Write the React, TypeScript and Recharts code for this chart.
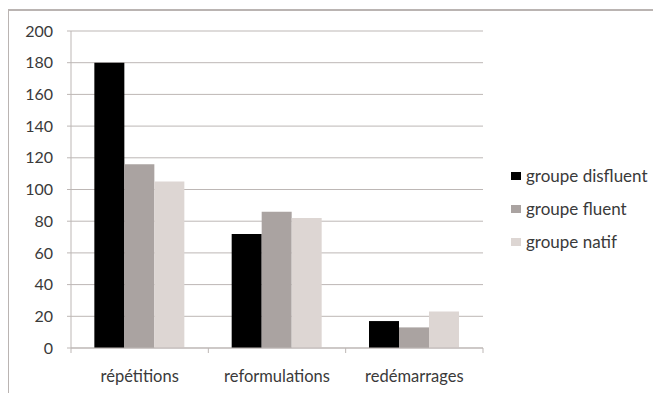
import React from "react";
import { BarChart, Bar, XAxis, YAxis, CartesianGrid, Legend } from "recharts";

const categories = ["répétitions", "reformulations", "redémarrages"];
const disfluent = [180, 72, 17];
const fluent = [116, 86, 13];
const natif = [105, 82, 23];
const yTicks = [0, 20, 40, 60, 80, 100, 120, 140, 160, 180, 200];

const seriesInfo = [
	{ key: "disfluent", name: "groupe disfluent", color: "#000000" },
	{ key: "fluent", name: "groupe fluent", color: "#aaa3a1" },
	{ key: "natif", name: "groupe natif", color: "#ddd6d3" },
];

const data = categories.map((c, i) => ({
	name: c,
	disfluent: disfluent[i],
	fluent: fluent[i],
	natif: natif[i],
}));

const FONT = "Lato, 'Open Sans', sans-serif";
const AXIS_COLOR = "#bdb7b5";
const TEXT_COLOR = "#3a3a3a";

// category label + tick marks at the band edges (Excel style)
const CategoryTick = (props: any) => {
	const { x, y, payload, index } = props;
	const half = payload && payload.offset ? payload.offset : 68.7;
	return (
		<g>
			<line x1={x - half} x2={x - half} y1={y} y2={y + 5} stroke={AXIS_COLOR} />
			{index === categories.length - 1 && (
				<line x1={x + half} x2={x + half} y1={y} y2={y + 5} stroke={AXIS_COLOR} />
			)}
			<text x={x} y={y + 34} textAnchor="middle" fill={TEXT_COLOR} fontSize={16.5} fontFamily={FONT}>
				{payload.value}
			</text>
		</g>
	);
};

const LegendContent = () => (
	<div style={{ fontFamily: FONT, fontSize: 17, color: TEXT_COLOR }}>
		{seriesInfo.map((s) => (
			<div key={s.key} style={{ height: 33, display: "flex", alignItems: "center" }}>
				<span
					style={{
						display: "inline-block",
						width: 10,
						height: 8,
						background: s.color,
						marginRight: 5,
					}}
				/>
				<span>{s.name}</span>
			</div>
		))}
	</div>
);

export default function App() {
	return (
		<div style={{ position: "relative", margin: -8, width: 661, height: 401, background: "#fff", overflow: "hidden" }}>
			<div style={{ position: "absolute", left: 0, top: 0 }}>
				<BarChart
					width={661}
					height={401}
					data={data}
					margin={{ top: 31, right: 178, left: 11, bottom: 23 }}
					barCategoryGap="17%"
					barGap={0}
				>
					<CartesianGrid horizontal vertical={false} stroke={AXIS_COLOR} />
					<XAxis
						dataKey="name"
						height={30}
						axisLine={{ stroke: AXIS_COLOR }}
						tickLine={false}
						tickSize={0}
						tickMargin={0}
						tick={<CategoryTick />}
						interval={0}
					/>
					<YAxis
						width={60}
						domain={[0, 200]}
						ticks={yTicks}
						interval={0}
						axisLine={{ stroke: AXIS_COLOR }}
						tickLine={{ stroke: AXIS_COLOR }}
						tickSize={4}
						tickMargin={14}
						tick={{ fill: TEXT_COLOR, fontSize: 16, fontFamily: FONT }}
					/>
					<Legend
						layout="horizontal"
						verticalAlign="middle"
						align="center"
						content={<LegendContent />}
						wrapperStyle={{ position: "absolute", left: 511, top: 159, width: 150 }}
					/>
					{seriesInfo.map((s) => (
						<Bar key={s.key} dataKey={s.key} name={s.name} fill={s.color} isAnimationActive={false} />
					))}
				</BarChart>
			</div>
			<div
				style={{
					position: "absolute",
					left: 7,
					top: 9,
					width: 661,
					height: 401,
					borderTop: "2px solid #bab4b2",
					borderLeft: "2px solid #bab4b2",
					boxSizing: "border-box",
					pointerEvents: "none",
				}}
			/>
		</div>
	);
}
